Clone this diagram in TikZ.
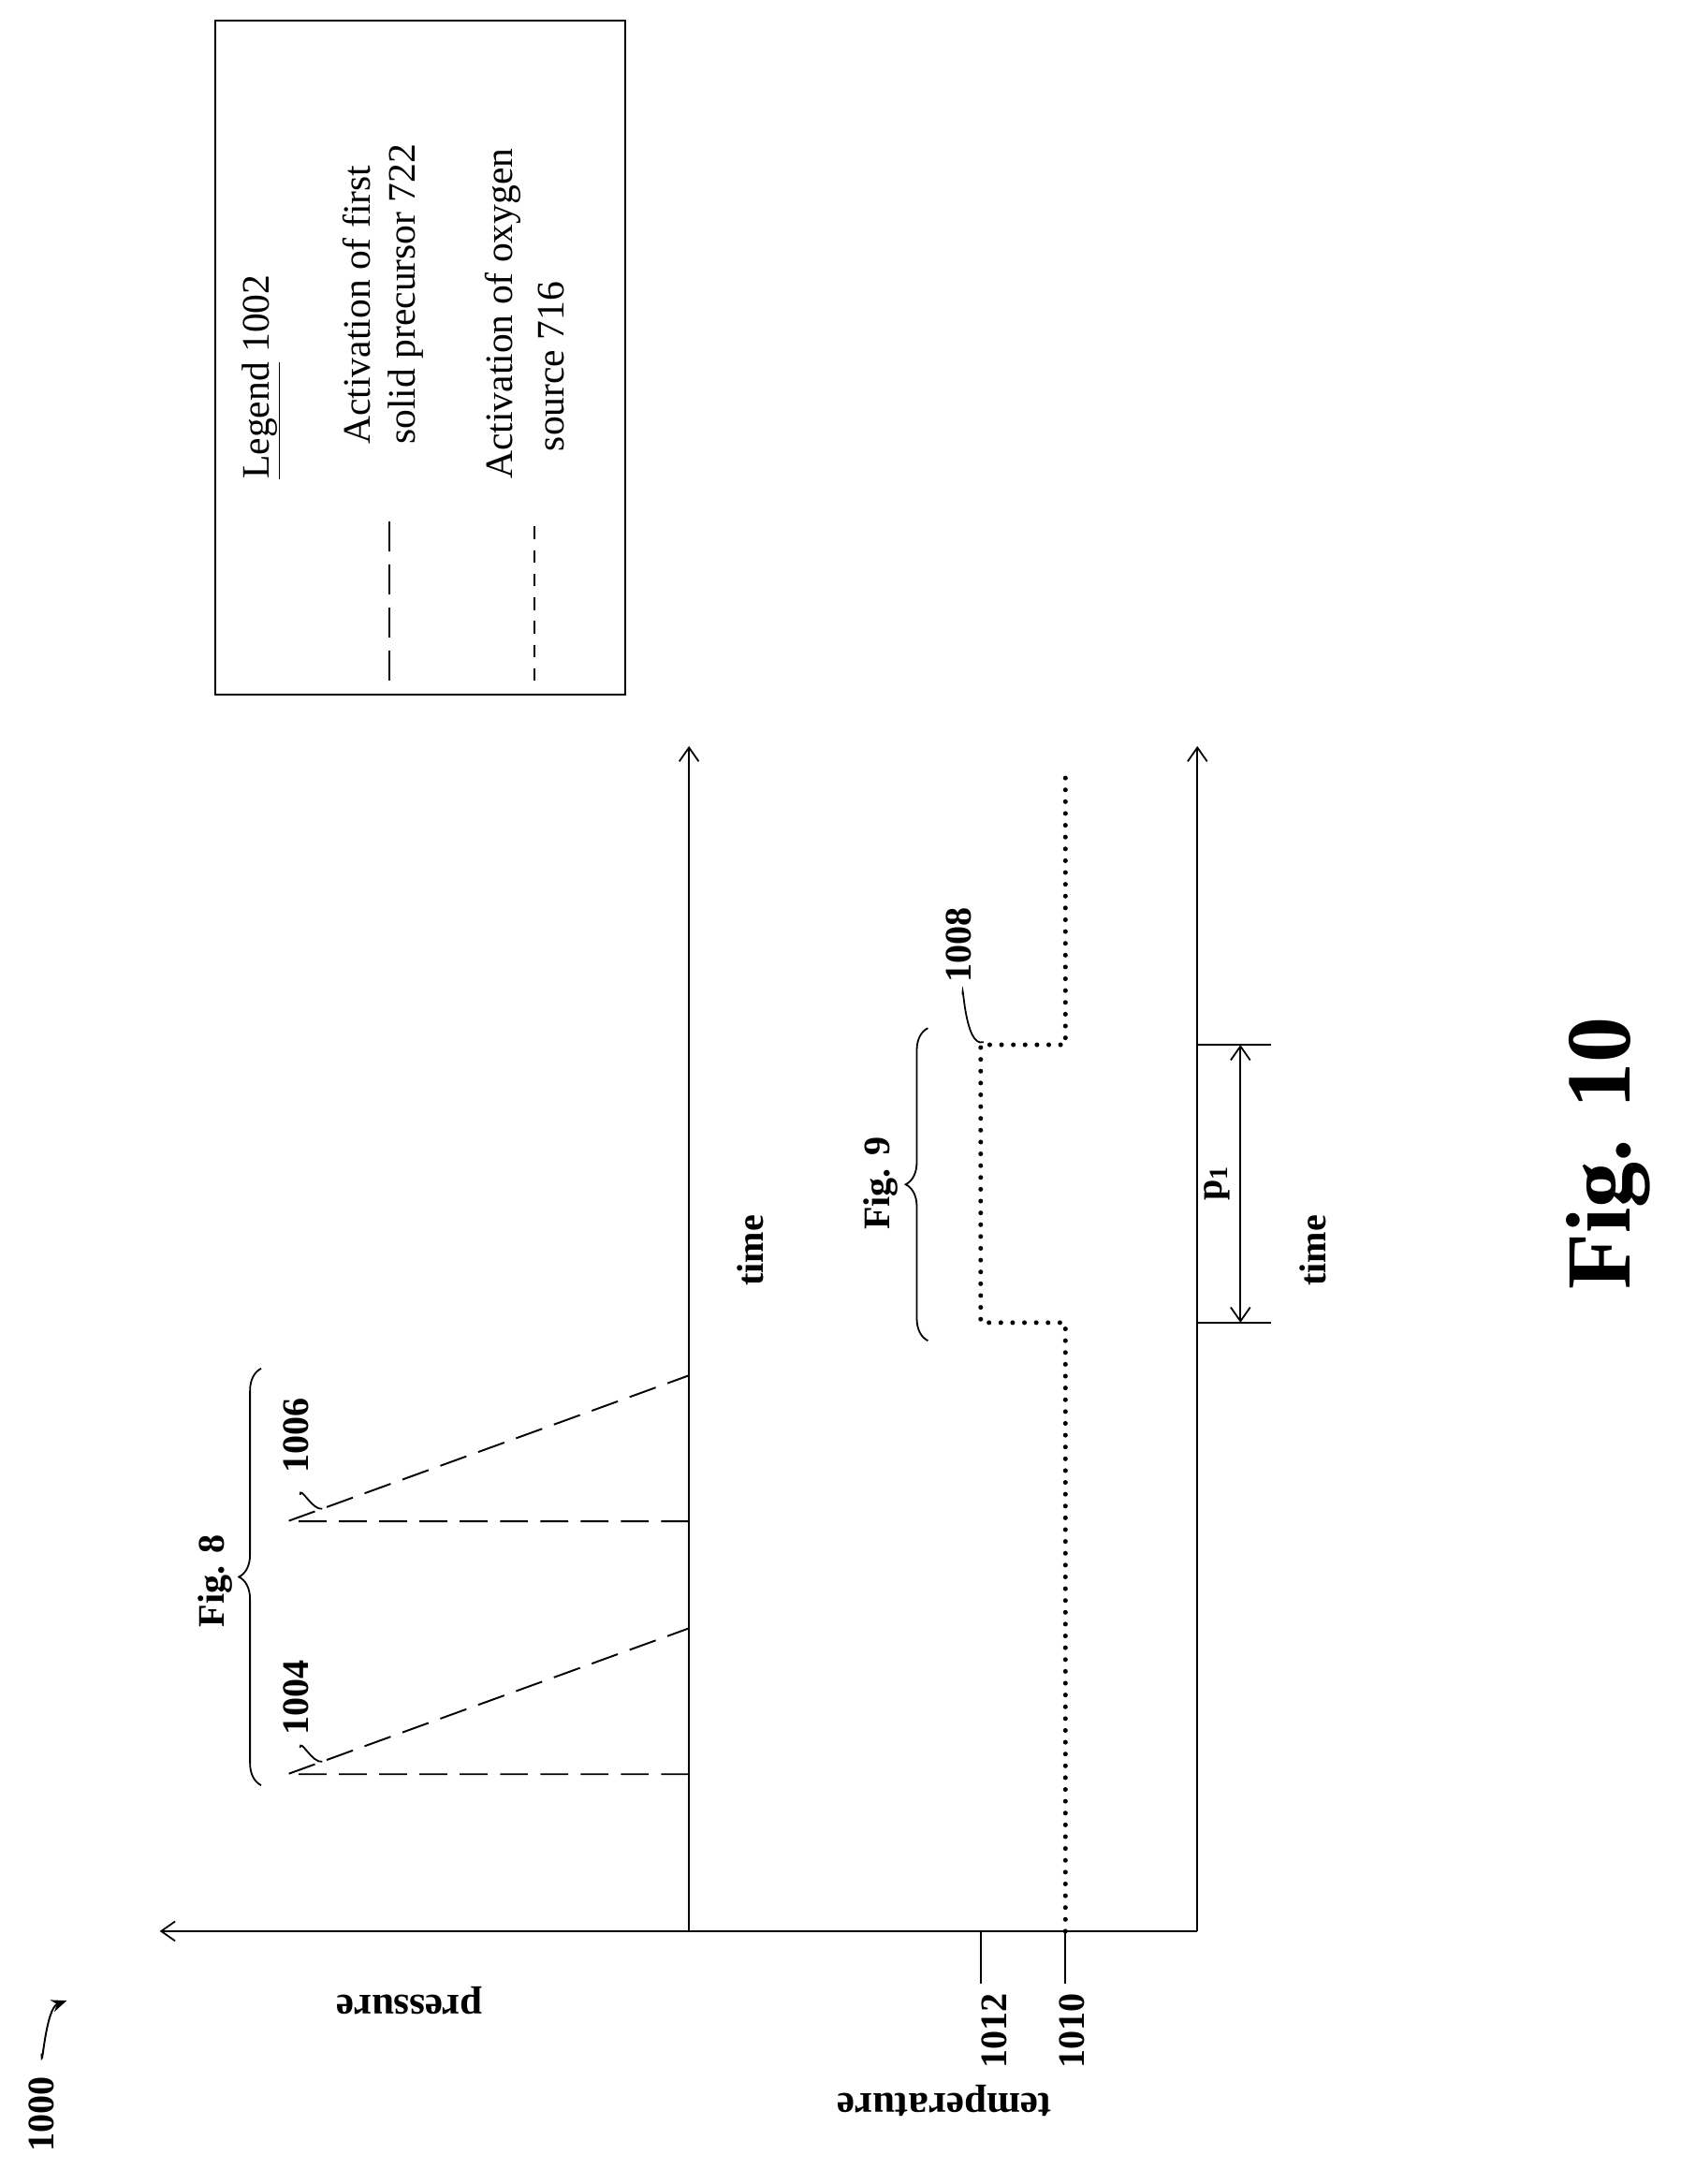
\documentclass[tikz,border=0pt]{standalone}
\usepackage{fontspec}
\setmainfont{Liberation Serif}
\usetikzlibrary{arrows.meta,decorations.pathreplacing}
\begin{document}
\begin{tikzpicture}[x=1pt,y=-1pt,
  ax/.style={line width=1.2pt,-{Straight Barb[length=10pt,width=14pt]}},
  thin/.style={line width=1.2pt},
  dashp/.style={line width=1.3pt,dash pattern=on 20pt off 9pt},
  dots/.style={line width=3.4pt,line cap=round,dash pattern=on 0pt off 8.5pt},
  lbl/.style={font=\fontsize{27}{31}\selectfont\bfseries,rotate=90},
  ulbl/.style={font=\fontsize{29}{33}\selectfont\bfseries,rotate=180},
  leg/.style={font=\fontsize{28}{32}\selectfont,rotate=90,anchor=west,inner sep=0pt},
  br/.style={thin,decorate,decoration={brace,amplitude=16pt}}]
\useasboundingbox (0,0) rectangle (1210,1572);
% axes
\coordinate (o1) at (496,1390);
\coordinate (o2) at (862,1390);
\coordinate (yt) at (115,1390);
\coordinate (t1) at (496,537);
\coordinate (t2) at (862,537);
\draw[ax] (o2) -- (yt);
\draw[ax] (o1) -- (t1);
\draw[ax] (o2) -- (t2);
\node[ulbl] (pr) at (295,1440) {pressure};
\node[ulbl] (te) at (680,1512) {temperature};
\node[lbl] (tm1) at (540,900) {time};
\node[lbl] (tm2) at (945,900) {time};
% 1000
\node[lbl] (n1000) at (30,1522) {1000};
\coordinate (a1000) at (48,1440);
\draw[line width=1.3pt,-{Stealth[length=11pt,width=9pt]}] (30,1478) to[out=-90,in=200] (a1000);
% labels 1012 / 1010
\node[lbl] (n1012) at (716,1462) {1012};
\node[lbl] (n1010) at (772,1462) {1010};
\coordinate (c1012) at (706,1390);
\coordinate (c1010) at (767,1390);
\draw[thin] (706,1428) -- (c1012);
\draw[thin] (767,1428) -- (c1010);
% temperature dotted
\draw[dots] (767,1390) -- (767,952) -- (706,952) -- (706,752) -- (767,752) -- (767,557);
% Fig 9 brace
\draw[br] (668,965) -- (668,740);
\node[lbl] (f9) at (634,852) {Fig. 9};
\node[lbl] (n1008) at (690,680) {1008};
\coordinate (c1008) at (708,750);
\draw[thin] (693,716) to[out=90,in=200] (c1008);
% pressure dashed
\draw[dashp] (496,1277) -- (207,1277) -- (496,1172);
\draw[dashp] (496,1095) -- (207,1095) -- (496,990);
\draw[br] (188,1285) -- (188,985);
\node[lbl] (f8) at (155,1138) {Fig. 8};
\node[lbl] (n1004) at (213,1222) {1004};
\node[lbl] (n1006) at (213,1033) {1006};
\coordinate (c1004) at (232,1268);
\coordinate (c1006) at (232,1086);
\draw[thin] (216,1258) to[out=90,in=190] (c1004);
\draw[thin] (216,1076) to[out=90,in=190] (c1006);
% p1
\draw[thin] (862,952) -- (915,952);
\draw[thin] (862,752) -- (915,752);
\coordinate (pa) at (893,952);
\coordinate (pb) at (893,752);
\draw[line width=1.2pt,{Straight Barb[length=10pt,width=14pt]}-{Straight Barb[length=10pt,width=14pt]}] (pa) -- (pb);
\node[lbl] (p1) at (876,852) {p$_{\mathbf 1}$};
% Fig 10
\node[rotate=90,font=\fontsize{66}{72}\selectfont\bfseries] (f10) at (1158,830) {Fig. 10};
% legend
\draw[thin] (155,15) rectangle (450,500);
\node[leg] (lg) at (188,345) {\underline{Legend} 1002};
\node[leg] (l1a) at (257,320) {Activation of first};
\node[leg] (l1b) at (292,320) {solid precursor 722};
\node[leg] (l2a) at (362,345) {Activation of oxygen};
\node[leg] (l2b) at (397,325) {source 716};
\draw[line width=1.3pt,dash pattern=on 22pt off 9pt] (280,490) -- (280,375);
\draw[line width=1.3pt,dash pattern=on 9pt off 8pt] (385,490) -- (385,375);
\end{tikzpicture}
\end{document}
